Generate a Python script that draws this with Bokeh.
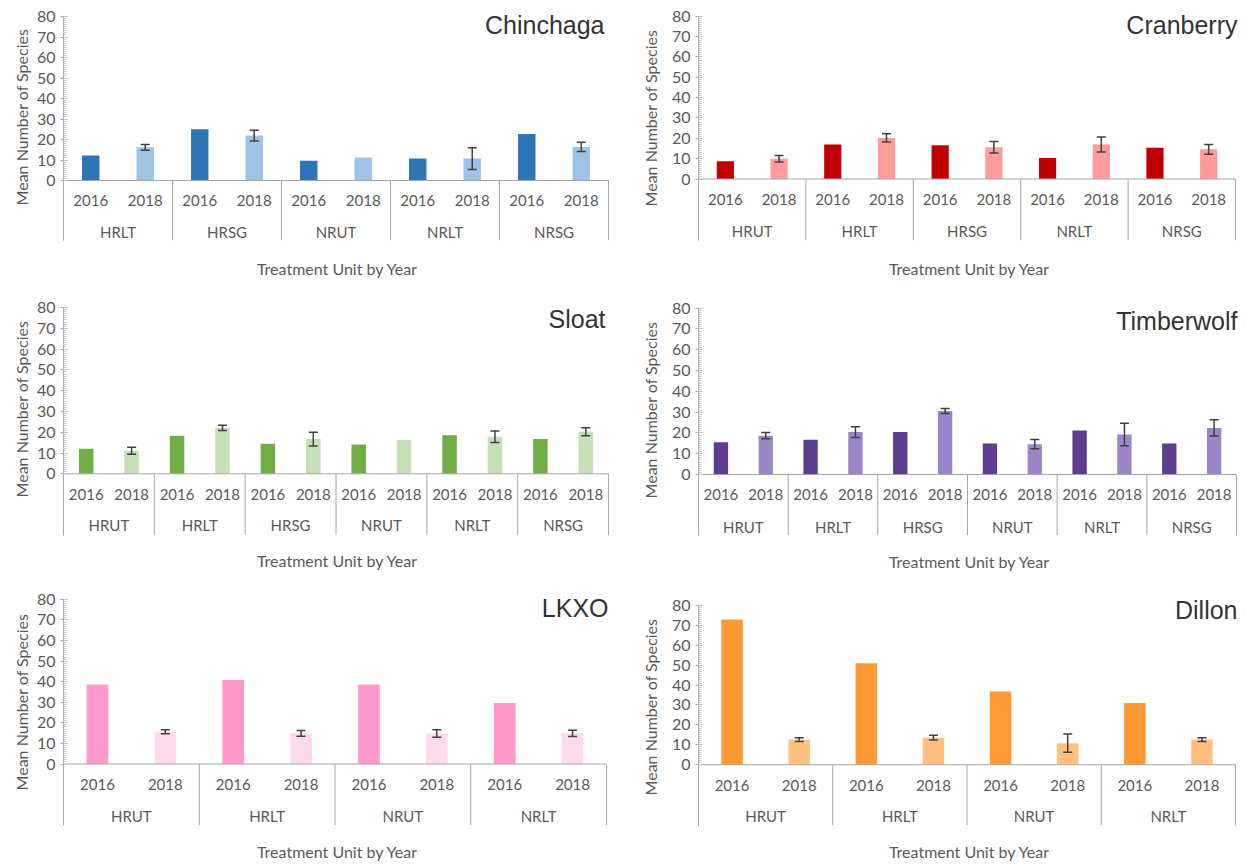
from bokeh.plotting import figure
from bokeh.models import ColumnDataSource, Range1d, FixedTicker, Whisker, TeeHead, Title
from bokeh.layouts import gridplot
from bokeh.embed import file_html
from bokeh.resources import INLINE
from bokeh.core.properties import value

years = ["2016", "2018"]
x_title = "Treatment Unit by Year"
y_title = "Mean Number of Species"

chinchaga_units = ["HRLT", "HRSG", "NRUT", "NRLT", "NRSG"]
chinchaga_2016 = [12.2, 25.0, 9.6, 10.7, 22.7]
chinchaga_2018 = [16.2, 21.9, 11.2, 10.7, 16.4]
chinchaga_se = [1.4, 2.6, None, 5.3, 2.3]

cranberry_units = ["HRUT", "HRLT", "HRSG", "NRLT", "NRSG"]
cranberry_2016 = [8.7, 17.0, 16.6, 10.3, 15.4]
cranberry_2018 = [10.0, 20.2, 15.6, 17.0, 14.6]
cranberry_se = [1.6, 2.0, 2.8, 3.7, 2.4]

sloat_units = ["HRUT", "HRLT", "HRSG", "NRUT", "NRLT", "NRSG"]
sloat_2016 = [12.0, 18.3, 14.4, 14.1, 18.6, 16.7]
sloat_2018 = [11.1, 22.1, 16.7, 16.2, 17.8, 20.2]
sloat_se = [1.7, 1.3, 3.3, None, 2.8, 1.9]

timberwolf_units = ["HRUT", "HRLT", "HRSG", "NRUT", "NRLT", "NRSG"]
timberwolf_2016 = [15.5, 16.7, 20.5, 14.9, 21.2, 14.9]
timberwolf_2018 = [18.7, 20.4, 30.6, 14.6, 19.2, 22.4]
timberwolf_se = [1.5, 2.6, 1.2, 2.2, 5.4, 3.9]

lkxo_units = ["HRUT", "HRLT", "NRUT", "NRLT"]
lkxo_2016 = [38.7, 40.8, 38.7, 29.7]
lkxo_2018 = [15.7, 14.9, 14.8, 14.9]
lkxo_se = [1.0, 1.4, 1.8, 1.5]

dillon_units = ["HRUT", "HRLT", "NRUT", "NRLT"]
dillon_2016 = [72.9, 51.0, 36.8, 31.0]
dillon_2018 = [12.6, 13.6, 10.8, 12.6]
dillon_se = [1.0, 1.2, 4.6, 1.0]

GRAY_TXT = "#595959"
AXIS_COL = "#a6a6a6"


def panel(name, units, v16, v18, se, dark, light, g):
    ox, oy, W, H = g["ox"], g["oy"], g["w"], g["h"]
    left = g["left"] - ox
    axis_right = g["right"] - ox
    frame_right = max(axis_right, g["title_right"] - ox) + 3
    top = g["top"] - oy
    bottom = g["bottom"] - oy
    y0 = g["y0"] - oy
    y80 = g["y80"] - oy
    ppu = (y0 - y80) / 80.0
    ystart = -(bottom - y0) / ppu
    yend = (y0 - top) / ppu
    n = len(units)
    pxu = (axis_right - left) / (2.0 * n)
    xend = (frame_right - left) / pxu

    p = figure(width=W, height=H, output_backend="svg", toolbar_location=None, tools="",
               title=None, x_range=Range1d(0, xend), y_range=Range1d(ystart, yend),
               min_border_left=left, min_border_right=W - frame_right,
               min_border_top=top, min_border_bottom=H - bottom)
    p.outline_line_color = None
    p.xgrid.visible = False
    p.ygrid.visible = False
    p.background_fill_color = "white"
    p.border_fill_color = "white"

    # y axis
    ya = p.yaxis[0]
    ya.ticker = FixedTicker(ticks=list(range(0, 81, 10)), minor_ticks=list(range(0, 81, 1)))
    ya.bounds = (ystart, 80)
    ya.axis_line_color = AXIS_COL
    ya.major_tick_line_color = AXIS_COL
    ya.minor_tick_line_color = "#c8c8c8"
    ya.major_tick_in = 4
    ya.major_tick_out = 3
    ya.minor_tick_in = 3
    ya.minor_tick_out = 0
    ya.major_label_standoff = 5
    ya.major_label_text_font = "Lato"
    ya.major_label_text_font_size = "16px"
    ya.major_label_text_color = GRAY_TXT

    # x axis: only title
    xa = p.xaxis[0]
    xa.ticker = FixedTicker(ticks=[])
    xa.axis_line_color = None
    xa.major_tick_line_color = None
    xa.minor_tick_line_color = None
    xa.axis_label = x_title
    xa.axis_label_text_font = "Lato"
    xa.axis_label_text_font_size = "16px"
    xa.axis_label_text_font_style = "normal"
    xa.axis_label_text_color = GRAY_TXT
    xa.axis_label_standoff = int(g["xlab"] - g["bottom"] - 10)

    p.add_layout(Title(text=y_title, align="right", offset=g["ylab_top"] - g["top"] + 8,
                       text_font="Lato", text_font_size="16px", text_font_style="normal",
                       text_color=GRAY_TXT, standoff=g["ystand"]), "left")

    xs16 = [2 * i + 0.5 for i in range(n)]
    xs18 = [2 * i + 1.5 for i in range(n)]
    p.vbar(x=xs16, top=v16, bottom=0, width=0.32, fill_color=dark, line_color=None)
    p.vbar(x=xs18, top=v18, bottom=0, width=0.32, fill_color=light, line_color=None)

    # baseline and group separators
    p.segment(x0=[0], y0=[0], x1=[2 * n], y1=[0], line_color=AXIS_COL, line_width=1)
    seps = [2 * i for i in range(n + 1)]
    p.segment(x0=seps, y0=[0] * len(seps), x1=seps, y1=[ystart] * len(seps),
              line_color=AXIS_COL, line_width=1)

    # error bars
    ex = [x for x, e in zip(xs18, se) if e is not None]
    eu = [v + e for v, e in zip(v18, se) if e is not None]
    el = [v - e for v, e in zip(v18, se) if e is not None]
    src = ColumnDataSource(dict(x=ex, upper=eu, lower=el))
    p.add_layout(Whisker(base="x", upper="upper", lower="lower", source=src, level="overlay",
                         line_color="#404040", line_width=1.5,
                         upper_head=TeeHead(size=9, line_color="#404040", line_width=1.5),
                         lower_head=TeeHead(size=9, line_color="#404040", line_width=1.5)))

    # category labels
    y_year = -(g["year"] - g["y0"]) / ppu
    y_unit = -(g["unit"] - g["y0"]) / ppu
    p.text(x=xs16 + xs18, y=[y_year] * (2 * n), text=[years[0]] * n + [years[1]] * n,
           text_align="center", text_baseline="middle", text_font=value("Lato"),
           text_font_size="15px", text_color=GRAY_TXT)
    p.text(x=[2 * i + 1 for i in range(n)], y=[y_unit] * n, text=units,
           text_align="center", text_baseline="middle", text_font=value("Lato"),
           text_font_size="15px", text_color=GRAY_TXT)

    # site name
    tx = (g["title_right"] - g["left"]) / pxu
    ty = (g["y0"] - g["title_y"]) / ppu
    p.text(x=[tx], y=[ty], text=[name], text_align="right", text_baseline="middle",
           text_font=value("Liberation Sans"), text_font_size="25px", text_color="#333333")
    return p


G = {
    "Chinchaga": dict(ox=0, oy=0, w=625, h=293, left=62, right=608, top=10, bottom=240,
                      y0=180, y80=16, year=200, unit=231, title_y=24, title_right=604,
                      xlab=268, ylab_top=20, ystand=6),
    "Cranberry": dict(ox=625, oy=0, w=624, h=293, left=696, right=1235, top=10, bottom=240,
                      y0=178.5, y80=15.7, year=199, unit=230, title_y=24, title_right=1237,
                      xlab=268, ylab_top=21, ystand=18),
    "Sloat": dict(ox=0, oy=293, w=625, h=290, left=61, right=609, top=298, bottom=535,
                  y0=473.3, y80=307, year=494, unit=524, title_y=318, title_right=606,
                  xlab=560, ylab_top=312, ystand=6),
    "Timberwolf": dict(ox=625, oy=293, w=624, h=290, left=694, right=1236, top=298, bottom=535,
                       y0=474, y80=307.7, year=494, unit=526, title_y=320, title_right=1237,
                       xlab=561, ylab_top=313, ystand=18),
    "LKXO": dict(ox=0, oy=583, w=625, h=280, left=63, right=606, top=590, bottom=827,
                 y0=765, y80=599, year=786, unit=817, title_y=608, title_right=608,
                 xlab=853, ylab_top=605, ystand=6),
    "Dillon": dict(ox=625, oy=583, w=624, h=280, left=698, right=1236, top=590, bottom=827,
                   y0=765.7, y80=605, year=787, unit=817, title_y=610, title_right=1238,
                   xlab=853, ylab_top=610, ystand=18),
}

p1 = panel("Chinchaga", chinchaga_units, chinchaga_2016, chinchaga_2018, chinchaga_se,
           "#2e75b6", "#9dc3e6", G["Chinchaga"])
p2 = panel("Cranberry", cranberry_units, cranberry_2016, cranberry_2018, cranberry_se,
           "#c00000", "#ff9b9b", G["Cranberry"])
p3 = panel("Sloat", sloat_units, sloat_2016, sloat_2018, sloat_se,
           "#70ad47", "#c5e0b4", G["Sloat"])
p4 = panel("Timberwolf", timberwolf_units, timberwolf_2016, timberwolf_2018, timberwolf_se,
           "#5e3c8f", "#9d86c7", G["Timberwolf"])
p5 = panel("LKXO", lkxo_units, lkxo_2016, lkxo_2018, lkxo_se,
           "#ff99cc", "#ffdaee", G["LKXO"])
p6 = panel("Dillon", dillon_units, dillon_2016, dillon_2018, dillon_se,
           "#ff9933", "#ffc080", G["Dillon"])

grid = gridplot([[p1, p2], [p3, p4], [p5, p6]], toolbar_location=None)

open("out.html", "w").write(file_html(grid, INLINE))
